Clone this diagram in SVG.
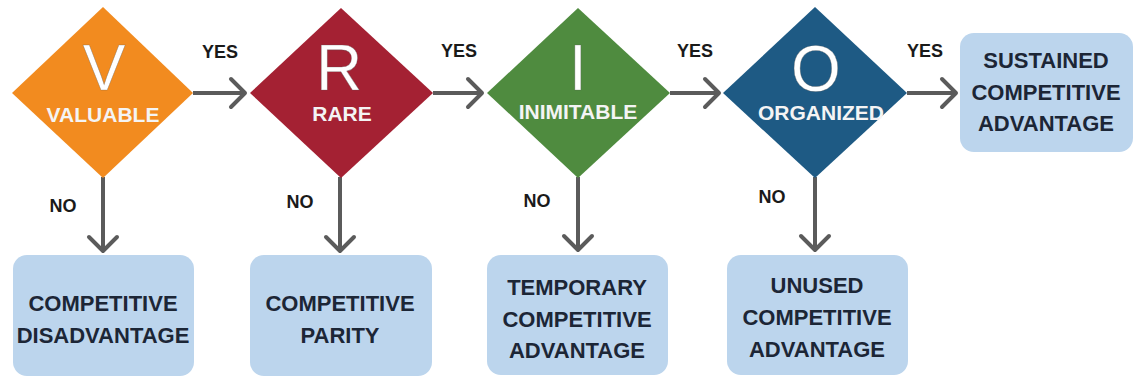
<svg xmlns="http://www.w3.org/2000/svg" width="1135" height="379" viewBox="0 0 1135 379">
<defs>
<style>
.big{font-family:"Liberation Sans",Arial,sans-serif;font-size:64px;fill:#fff;text-anchor:middle;stroke:#5a5a5a;stroke-width:0.6;stroke-opacity:0.5}
.lab{font-family:"Liberation Sans",Arial,sans-serif;font-size:21px;font-weight:bold;fill:#f4f4f4;text-anchor:middle}
.box{fill:#bcd5ed}
.bt{font-family:"Liberation Sans",Arial,sans-serif;font-size:22px;font-weight:bold;fill:#1c2636;text-anchor:middle}
.yn{font-family:"Liberation Sans",Arial,sans-serif;font-size:18px;font-weight:bold;fill:#1a1a1a;text-anchor:middle}
.conn{stroke:#5b5b5b;stroke-width:4;fill:none}
</style>
<marker id="chev" markerUnits="userSpaceOnUse" viewBox="-20 -20 24 40" refX="0" refY="0" markerWidth="24" markerHeight="40" orient="auto">
<path d="M-14,-14 L0,0 L-14,14" fill="none" stroke="#5b5b5b" stroke-width="4" stroke-linejoin="round" stroke-linecap="round"/>
</marker>
</defs>
<rect width="1135" height="379" fill="#ffffff"/>

<g id="connectors">
<path class="conn" d="M193,93 H245" marker-end="url(#chev)"/>
<path class="conn" d="M433,93 H482" marker-end="url(#chev)"/>
<path class="conn" d="M670,93 H719" marker-end="url(#chev)"/>
<path class="conn" d="M907,93 H956" marker-end="url(#chev)"/>
<path class="conn" d="M103,177 V251" marker-end="url(#chev)"/>
<path class="conn" d="M340,177 V251" marker-end="url(#chev)"/>
<path class="conn" d="M578,177 V250" marker-end="url(#chev)"/>
<path class="conn" d="M815,177 V250" marker-end="url(#chev)"/>
<text class="yn" x="220" y="58">YES</text>
<text class="yn" x="459" y="57">YES</text>
<text class="yn" x="695" y="57">YES</text>
<text class="yn" x="925" y="57">YES</text>
<text class="yn" x="63" y="212">NO</text>
<text class="yn" x="300" y="208">NO</text>
<text class="yn" x="537" y="207">NO</text>
<text class="yn" x="772" y="203">NO</text>
</g>

<g id="valuable">
<path d="M103,7 L193,93 L103,178 L12,93 Z" fill="#f28b1f"/>
<text class="big" x="104" y="90">V</text>
<text class="lab" x="103" y="122">VALUABLE</text>
</g>
<g id="rare">
<path d="M341,8 L433,93 L341,178 L250,93 Z" fill="#a42133"/>
<text class="big" x="339" y="90">R</text>
<text class="lab" x="342" y="121">RARE</text>
</g>
<g id="inimitable">
<path d="M578,8 L670,93 L578,178 L487,93 Z" fill="#4f8b3f"/>
<text class="big" x="578" y="90">I</text>
<text class="lab" x="578" y="119">INIMITABLE</text>
</g>
<g id="organized">
<path d="M815,7 L907,93 L815,178 L723,93 Z" fill="#1e5a84"/>
<text class="big" x="816" y="91">O</text>
<text class="lab" x="821" y="120">ORGANIZED</text>
</g>

<g id="sustained">
<rect class="box" x="960" y="33" width="173" height="119" rx="14"/>
<text class="bt" x="1046" y="68">SUSTAINED</text>
<text class="bt" x="1046" y="100">COMPETITIVE</text>
<text class="bt" x="1046" y="131">ADVANTAGE</text>
</g>
<g id="disadvantage">
<rect class="box" x="13" y="255" width="181" height="121" rx="14"/>
<text class="bt" x="103" y="311">COMPETITIVE</text>
<text class="bt" x="103" y="343">DISADVANTAGE</text>
</g>
<g id="parity">
<rect class="box" x="250" y="255" width="182" height="121" rx="14"/>
<text class="bt" x="340" y="311">COMPETITIVE</text>
<text class="bt" x="340" y="343">PARITY</text>
</g>
<g id="temporary">
<rect class="box" x="487" y="255" width="181" height="120" rx="14"/>
<text class="bt" x="577" y="295">TEMPORARY</text>
<text class="bt" x="577" y="327">COMPETITIVE</text>
<text class="bt" x="577" y="358">ADVANTAGE</text>
</g>
<g id="unused">
<rect class="box" x="727" y="255" width="181" height="120" rx="14"/>
<text class="bt" x="817" y="293">UNUSED</text>
<text class="bt" x="817" y="325">COMPETITIVE</text>
<text class="bt" x="817" y="357">ADVANTAGE</text>
</g>
</svg>
